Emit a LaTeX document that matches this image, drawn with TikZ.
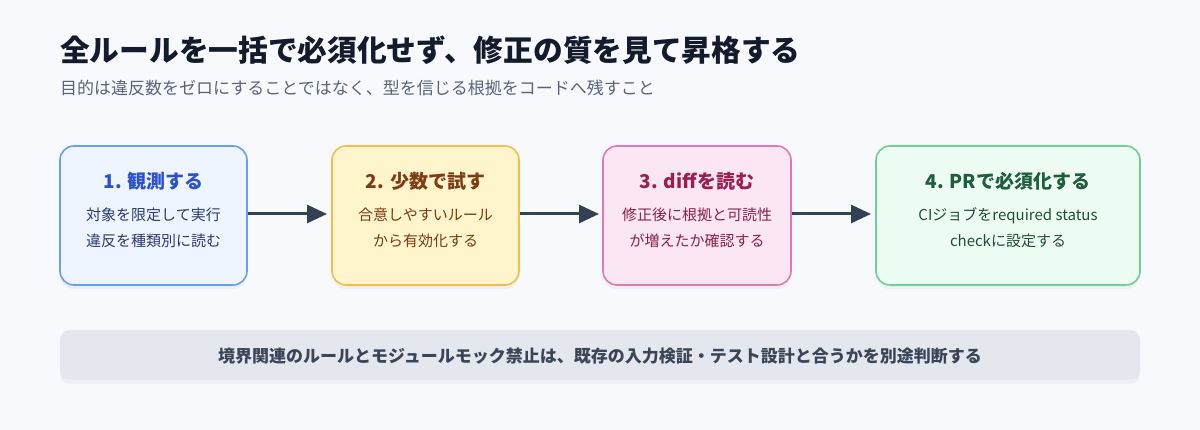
\documentclass[tikz,border=0pt]{standalone}
\usepackage{fontspec}
\setmainfont{Noto Sans CJK JP}
\usetikzlibrary{arrows.meta,shadows}
\definecolor{bg}{HTML}{F8F9FC}
\definecolor{fa}{HTML}{EFF5FF}\definecolor{sa}{HTML}{6A9EF0}\definecolor{ta}{HTML}{2B50D0}\definecolor{xa}{HTML}{2C3A6B}
\definecolor{fb}{HTML}{FEF5CC}\definecolor{sb}{HTML}{F2C04A}\definecolor{tb}{HTML}{7E3C14}\definecolor{xb}{HTML}{7A3A10}
\definecolor{fc}{HTML}{FBE7F3}\definecolor{sc}{HTML}{E07AB0}\definecolor{tc}{HTML}{9A1F50}\definecolor{xc}{HTML}{8A2048}
\definecolor{fd}{HTML}{EEFDF4}\definecolor{sd}{HTML}{6CCF98}\definecolor{td}{HTML}{1E5E3C}\definecolor{xd}{HTML}{1E4E36}
\definecolor{barf}{HTML}{E4E8EE}\definecolor{bart}{HTML}{3A4558}
\definecolor{ink}{HTML}{141B2D}\definecolor{sub}{HTML}{5A6478}\definecolor{arr}{HTML}{334155}
\begin{document}
\begin{tikzpicture}[x=1pt,y=-1pt,
 box/.style={rounded corners=14pt,line width=1.6pt,drop shadow={opacity=0.08,shadow xshift=0pt,shadow yshift=-4pt}},
 ttl/.style={font=\bfseries\fontsize{19}{22}\selectfont,anchor=center},
 bod/.style={font=\fontsize{15}{26}\selectfont,align=center,anchor=north},
 ar/.style={line width=3pt,color=arr,-{Triangle[length=20pt,width=18pt]}}]
\fill[bg] (0,0) rectangle (1200,430);
\useasboundingbox (0,0) rectangle (1200,430);
\node[anchor=west,text=ink,font=\bfseries\fontsize{29.7}{32}\selectfont,inner sep=0] (title) at (60,50) {全ルールを一括で必須化せず、修正の質を見て昇格する};
\node[anchor=west,text=sub,font=\fontsize{17}{20}\selectfont,inner sep=0] (subt) at (60,88) {目的は違反数をゼロにすることではなく、型を信じる根拠をコードへ残すこと};
\draw[box,fill=fa,draw=sa] (60,146) rectangle (247,285);
\draw[box,fill=fb,draw=sb] (332,146) rectangle (519,285);
\draw[box,fill=fc,draw=sc] (603,146) rectangle (791,285);
\draw[box,fill=fd,draw=sd] (876,146) rectangle (1140,285);
\node[ttl,text=ta] (t1) at (153.5,181) {1. 観測する};
\node[ttl,text=tb] (t2) at (425.5,181) {2. 少数で試す};
\node[ttl,text=tc] (t3) at (697,181) {3. diffを読む};
\node[ttl,text=td] (t4) at (1008,181) {4. PRで必須化する};
\node[bod,text=xa] (d1) at (153.5,204) {対象を限定して実行\\違反を種類別に読む};
\node[bod,text=xb] (d2) at (425.5,204) {合意しやすいルール\\から有効化する};
\node[bod,text=xc] (d3) at (697,204) {修正後に根拠と可読性\\が増えたか確認する};
\node[bod,text=xd] (d4) at (1008,204) {CIジョブをrequired status\\checkに設定する};
\coordinate (a1) at (248,214);\coordinate (e1) at (327,214);
\coordinate (a2) at (520,214);\coordinate (e2) at (599,214);
\coordinate (a3) at (792,214);\coordinate (e3) at (871,214);
\draw[ar] (a1) -- (e1);\draw[ar] (a2) -- (e2);\draw[ar] (a3) -- (e3);
\fill[barf,rounded corners=10pt,drop shadow={opacity=0.08,shadow xshift=0pt,shadow yshift=-4pt}] (60,330) rectangle (1140,380);
\node[text=bart,font=\bfseries\fontsize{17}{20}\selectfont] (bar) at (600,356) {境界関連のルールとモジュールモック禁止は、既存の入力検証・テスト設計と合うかを別途判断する};
\end{tikzpicture}
\end{document}
